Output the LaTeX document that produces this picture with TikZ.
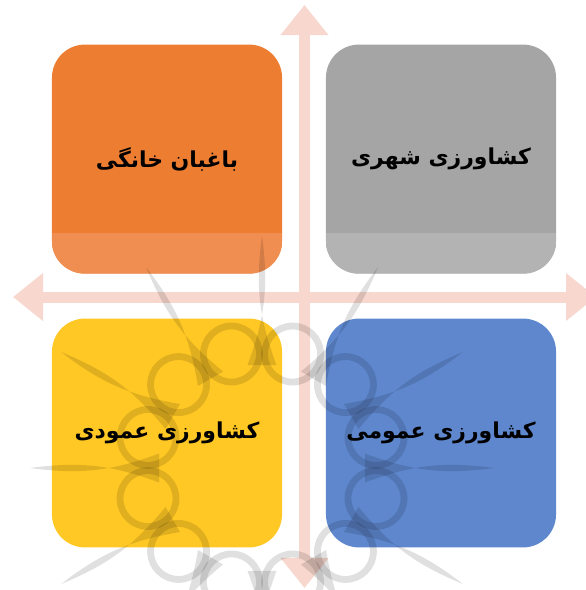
\documentclass[tikz,border=0pt]{standalone}
\usepackage{fontspec}
\newfontfamily\farsifont[Script=Arabic]{DejaVu Sans}
\TeXXeTstate=1
\usetikzlibrary{arrows.meta}

\definecolor{boxorange}{HTML}{ED7D31}
\definecolor{bandorange}{HTML}{EF8E50}
\definecolor{boxgray}{HTML}{A5A5A5}
\definecolor{bandgray}{HTML}{B3B3B3}
\definecolor{boxyellow}{HTML}{FFC824}
\definecolor{boxblue}{HTML}{5E87CD}
\definecolor{axispink}{HTML}{F8D8CE}

\begin{document}
\begin{tikzpicture}[x=0.025cm,y=-0.025cm,
	quad/.style={rounded corners=0.825cm,minimum width=5.75cm,minimum height=5.72cm,inner sep=0pt,
		font=\farsifont\bfseries\fontsize{15.6}{18}\selectfont},
	axis/.style={axispink,line width=0.275cm,
		{Triangle[width=1.15cm,length=0.75cm]}-{Triangle[width=1.15cm,length=0.75cm]}},
	wm/.style={black,opacity=0.12,line width=0.17cm}]
	  \useasboundingbox (0,0) rectangle (585,590);

	  % axes
	  \coordinate (west) at (13,297);
	  \coordinate (east) at (596,297);
	  \coordinate (north) at (304.5,5);
	  \coordinate (south) at (304.5,588);
	  \draw[axis] (west) -- (east);
	  \draw[axis] (north) -- (south);

	  % quadrants
	  \node[quad,fill=boxorange] (home) at (167,159) {\beginR باغبان خانگی\endR};
	  \node[quad,fill=boxgray] (urban) at (441,159) {\beginR کشاورزی شهری\endR};
	  \node[quad,fill=boxyellow] (vertical) at (167,433) {\beginR کشاورزی عمودی\endR};
	  \node[quad,fill=boxblue] (public) at (441,433) {\beginR کشاورزی عمومی\endR};

	  \foreach \b/\c in {home/bandorange,urban/bandgray} {
	    \begin{scope}
	      \clip[rounded corners=0.825cm] (\b.south west) rectangle (\b.north east);
	      \fill[\c] (\b.south west) rectangle ([yshift=1.025cm]\b.south east);
	    \end{scope}
	  }

	  % watermark
	  \begin{scope}[shift={(262,468)}]
	    \foreach \a in {15,45,...,345}
	      \draw[wm] (\a:118) circle[radius=28];
	    \foreach \a in {0,30,...,330}
	      \fill[wm] (\a-8:104) to[bend right=14] (\a:232) to[bend right=14] (\a+8:104) -- cycle;
	  \end{scope}
\end{tikzpicture}
\end{document}
